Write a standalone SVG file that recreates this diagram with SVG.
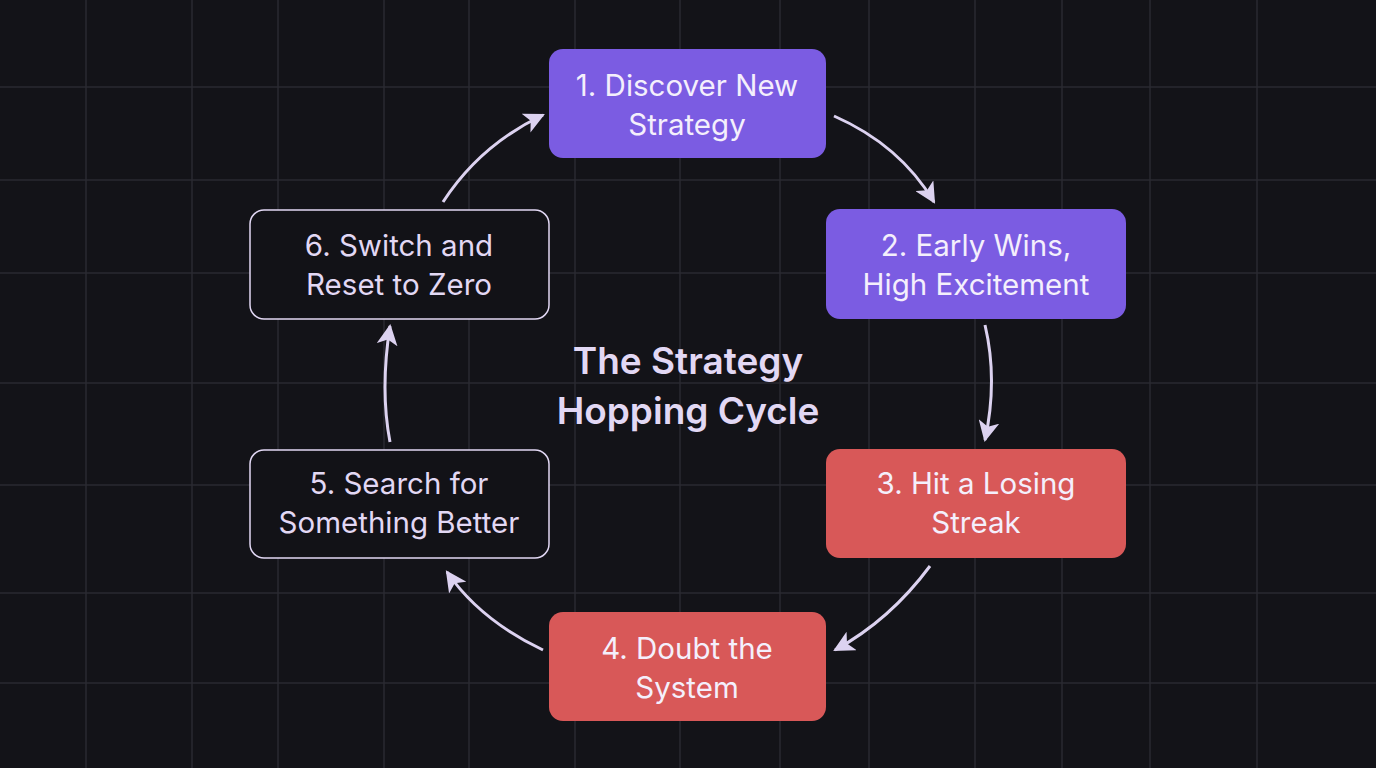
<svg xmlns="http://www.w3.org/2000/svg" width="1376" height="768" viewBox="0 0 1376 768">
<style>
.g{stroke:#2a2a31;stroke-width:1.5}
.t{font-family:Inter,"Noto Sans",sans-serif;font-size:29.5px;text-anchor:middle}
.p{fill:#7B5CE2}
.r{fill:#D85858}
.d{fill:#121217;stroke:#E2D8F4;stroke-width:1.5}
.w{fill:#F4EFFC}
.l{fill:#E2D8F4}
.c{fill:none;stroke:#DCD2F0;stroke-width:3}
</style>
<defs><marker id="a" viewBox="0 0 10 10" refX="9" refY="5" markerWidth="21" markerHeight="21" orient="auto" markerUnits="userSpaceOnUse"><path d="M0,0L10,5L0,10L2.5,5z" fill="#DCD2F0"/></marker></defs>
<rect width="1376" height="768" fill="#131318"/>
<g id="grid">
<path class="g" d="M86 0V768M192 0V768M278 0V768M384 0V768M469 0V768M575 0V768M680 0V768M780 0V768M869 0V768M975 0V768M1062 0V768M1150 0V768M1257 0V768M0 87H1376M0 180H1376M0 273H1376M0 383H1376M0 485H1376M0 593H1376M0 683H1376"/>
</g>
<g id="connectors">
<path class="c" d="M834 116Q900 145 934 202" marker-end="url(#a)"/>
<path class="c" d="M985 325Q998 380 985 440" marker-end="url(#a)"/>
<path class="c" d="M930 566Q890 620 835 650" marker-end="url(#a)"/>
<path class="c" d="M543 650Q480 620 447 572" marker-end="url(#a)"/>
<path class="c" d="M390 442Q380 390 390 326" marker-end="url(#a)"/>
<path class="c" d="M443 202Q480 145 543 115" marker-end="url(#a)"/>
</g>
<g id="n1"><rect class="p" x="549" y="49" width="277" height="109" rx="14"/><text class="t w" x="687" y="96">1. Discover New</text><text class="t w" x="687" y="135">Strategy</text></g>
<g id="n2"><rect class="p" x="826" y="209" width="300" height="110" rx="14"/><text class="t w" x="976" y="256">2. Early Wins,</text><text class="t w" x="976" y="295">High Excitement</text></g>
<g id="n3"><rect class="r" x="826" y="449" width="300" height="109" rx="14"/><text class="t w" x="976" y="494">3. Hit a Losing</text><text class="t w" x="976" y="533">Streak</text></g>
<g id="n4"><rect class="r" x="549" y="612" width="277" height="109" rx="14"/><text class="t w" x="687" y="659">4. Doubt the</text><text class="t w" x="687" y="698">System</text></g>
<g id="n5"><rect class="d" x="250" y="450" width="299" height="108" rx="14"/><text class="t l" x="399" y="494">5. Search for</text><text class="t l" x="399" y="533">Something Better</text></g>
<g id="n6"><rect class="d" x="250" y="210" width="299" height="109" rx="14"/><text class="t l" x="399" y="256">6. Switch and</text><text class="t l" x="399" y="295">Reset to Zero</text></g>
<g id="title"><text class="t l" x="688" y="374" style="font-size:37px;font-weight:600">The Strategy</text><text class="t l" x="688" y="424" style="font-size:37px;font-weight:600">Hopping Cycle</text></g>
</svg>
